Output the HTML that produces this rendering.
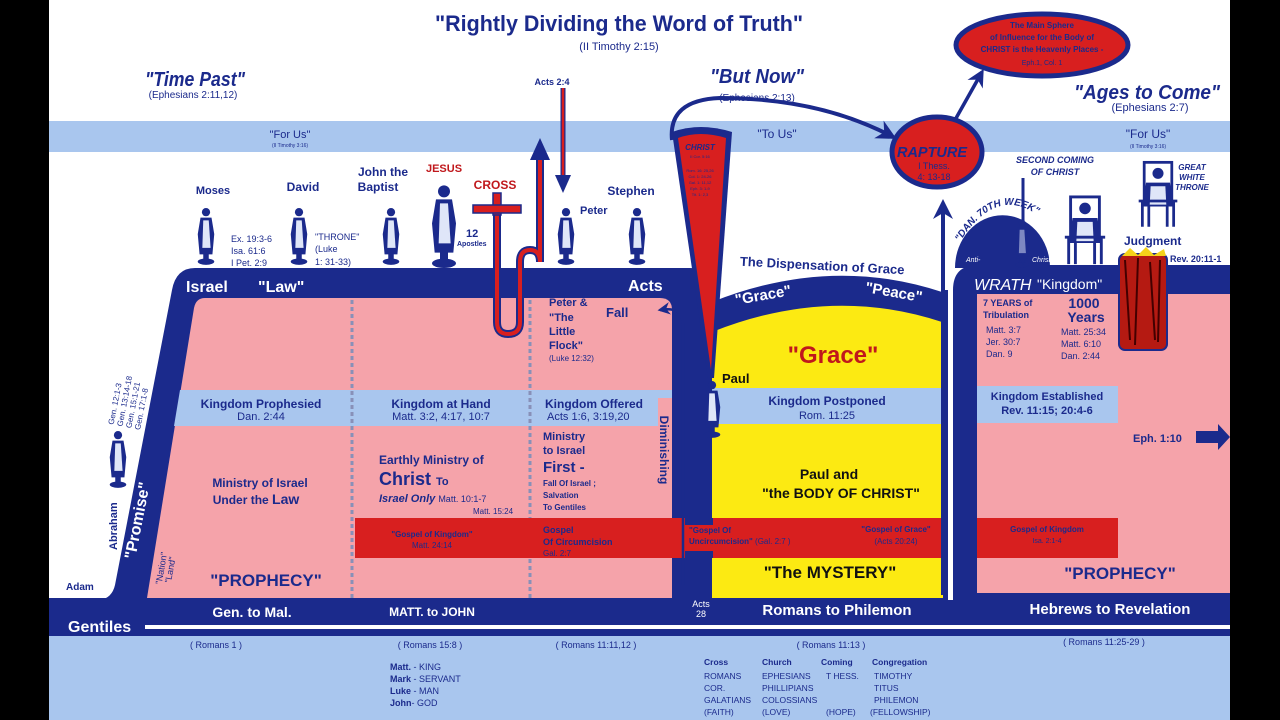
<!DOCTYPE html>
<html><head><meta charset="utf-8"><style>
html,body{margin:0;padding:0;background:#000}
svg{display:block}
text{font-family:"Liberation Sans Narrow","Liberation Sans",sans-serif}
</style></head><body>
<svg width="1280" height="720" viewBox="0 0 1280 720" xmlns="http://www.w3.org/2000/svg">
<defs>
<symbol id="fig" viewBox="0 0 24 64">
<circle cx="12" cy="6" r="4.5" fill="#1b2a8c"/>
<path d="M6,12 L18,12 L21,30 L19,52 L15,52 L15,58 L9,58 L9,52 L5,52 L3,30 Z" fill="#1b2a8c"/>
<path d="M9,15 L15,15 L17,45 L8,45 Z" fill="#dfe6f8"/>
<ellipse cx="12" cy="60" rx="9" ry="3.5" fill="#1b2a8c"/>
</symbol>
<symbol id="throne" viewBox="0 0 50 75">
<rect x="10" y="2" width="30" height="40" fill="none" stroke="#1b2a8c" stroke-width="3"/>
<circle cx="25" cy="14" r="6" fill="#1b2a8c"/>
<path d="M12,24 L38,24 L42,50 L8,50 Z" fill="#1b2a8c"/>
<path d="M17,28 L33,28 L34,48 L16,48 Z" fill="#dfe6f8"/>
<path d="M4,44 L46,44 M8,44 L8,72 M42,44 L42,72 M15,50 L15,72 M35,50 L35,72" stroke="#1b2a8c" stroke-width="3"/>
</symbol>
<marker id="ah" viewBox="0 0 10 10" refX="8" refY="5" markerWidth="5" markerHeight="5" orient="auto"><path d="M0,0 L10,5 L0,10 L3,5 Z" fill="#1b2a8c"/></marker>
</defs>
<rect x="0" y="0" width="1280" height="720" fill="#000"/>
<rect x="49" y="0" width="1181" height="720" fill="#fff"/>
<rect x="49" y="121" width="1181" height="31" fill="#a9c6ee"/>
<rect x="49" y="636" width="1181" height="84" fill="#a9c6ee"/>

<text x="619" y="31" font-size="22" font-weight="bold" fill="#1b2a8c" text-anchor="middle" textLength="368" lengthAdjust="spacingAndGlyphs">"Rightly Dividing the Word of Truth"</text>
<text x="619" y="50" font-size="11" fill="#1b2a8c" text-anchor="middle">(II Timothy 2:15)</text>
<text x="195" y="86" font-size="20" font-weight="bold" font-style="italic" fill="#1b2a8c" text-anchor="middle" textLength="100" lengthAdjust="spacingAndGlyphs">"Time Past"</text>
<text x="193" y="98" font-size="10" fill="#1b2a8c" text-anchor="middle">(Ephesians 2:11,12)</text>
<text x="757" y="83" font-size="20" font-weight="bold" font-style="italic" fill="#1b2a8c" text-anchor="middle" textLength="94" lengthAdjust="spacingAndGlyphs">"But Now"</text>
<text x="757" y="101" font-size="10" fill="#1b2a8c" text-anchor="middle">(Ephesians 2:13)</text>
<text x="1147" y="99" font-size="20" font-weight="bold" font-style="italic" fill="#1b2a8c" text-anchor="middle" textLength="146" lengthAdjust="spacingAndGlyphs">"Ages to Come"</text>
<text x="1150" y="111" font-size="11" fill="#1b2a8c" text-anchor="middle">(Ephesians 2:7)</text>
<text x="290" y="138" font-size="11" fill="#1b2a8c" text-anchor="middle">"For Us"</text>
<text x="290" y="147" font-size="5" fill="#1b2a8c" text-anchor="middle">(II Timothy 3:16)</text>
<text x="777" y="138" font-size="12" fill="#1b2a8c" text-anchor="middle">"To Us"</text>
<text x="1148" y="138" font-size="12" fill="#1b2a8c" text-anchor="middle">"For Us"</text>
<text x="1148" y="148" font-size="5" fill="#1b2a8c" text-anchor="middle">(II Timothy 3:16)</text>

<path d="M195,268 L690,268 Q712,268 712,290 L712,598 L49,598 L49,600 L100,600 Q112,598 115,585 L172,290 Q176,268 195,268 Z" fill="#1b2a8c"/>
<path d="M205,298 L660,298 Q672,298 672,310 L672,598 L147,598 L194,308 Q196,298 205,298 Z" fill="#f5a3aa"/>
<path d="M180,390 L672,390 L672,426 L174,426 Z" fill="#a9c6ee"/>
<line x1="352" y1="300" x2="352" y2="598" stroke="#8890b8" stroke-width="3" stroke-dasharray="4,3"/>
<line x1="530" y1="300" x2="530" y2="598" stroke="#8890b8" stroke-width="3" stroke-dasharray="4,3"/>

<rect x="712" y="300" width="232" height="298" fill="#fcea12"/>
<rect x="712" y="388" width="232" height="36" fill="#a9c6ee"/>
<path d="M712,302 Q830,255 942,292 L942,322 Q830,285 712,332 Z" fill="#1b2a8c"/>
<rect x="943" y="290" width="5" height="308" fill="#1b2a8c"/>
<rect x="355" y="518" width="588" height="40" fill="#d81f1f"/>
<rect x="685" y="518" width="28" height="7" fill="#1b2a8c"/>
<rect x="685" y="551" width="28" height="7" fill="#1b2a8c"/>

<path d="M978,265 L1230,265 L1230,598 L953,598 L953,290 Q953,265 978,265 Z" fill="#1b2a8c"/>
<rect x="977" y="294" width="253" height="299" fill="#f5a3aa"/>
<rect x="977" y="386" width="141" height="37" fill="#a9c6ee"/>
<rect x="977" y="518" width="141" height="40" fill="#d81f1f"/>
<path d="M955,268 A45,50 0 0 1 1050,268 Z" fill="#1b2a8c"/>
<rect x="1119" y="254" width="48" height="96" rx="6" fill="#b51a12" stroke="#1b2a8c" stroke-width="2"/>
<path d="M1125,260 L1130,340 M1138,258 L1135,345 M1150,262 L1155,340 M1160,260 L1158,342" stroke="#400" stroke-width="2"/>
<path d="M1122,256 L1130,248 L1138,255 L1146,247 L1154,255 L1164,249 L1166,256 Z" fill="#f5d21a"/>

<rect x="49" y="598" width="1181" height="38" fill="#1b2a8c"/>
<rect x="145" y="625" width="1085" height="4" fill="#fff"/>
<rect x="948" y="290" width="5" height="310" fill="#fff"/>

<path d="M672,132 Q700,122 732,132 L714,378 L708,378 Z" fill="#1b2a8c"/>
<path d="M678,138 Q700,130 726,138 L711,370 Z" fill="#d81f1f"/>
<text x="700" y="150" font-size="8" font-weight="bold" font-style="italic" fill="#1b2a8c" text-anchor="middle">CHRIST</text>
<text x="700" y="158" font-size="4" fill="#1b2a8c" text-anchor="middle">II Cor. 5:16</text>
<text x="700" y="172" font-size="4" fill="#1b2a8c" text-anchor="middle">Rom. 16: 25,26</text>
<text x="700" y="178" font-size="4" fill="#1b2a8c" text-anchor="middle">Col. 1: 24-26</text>
<text x="700" y="184" font-size="4" fill="#1b2a8c" text-anchor="middle">Gal. 1: 11,12</text>
<text x="700" y="190" font-size="4" fill="#1b2a8c" text-anchor="middle">Eph. 3: 1-9</text>
<text x="700" y="196" font-size="4" fill="#1b2a8c" text-anchor="middle">Tit. 1: 2,3</text>

<path d="M672,140 Q668,100 720,98 Q820,98 893,137" fill="none" stroke="#1b2a8c" stroke-width="4" marker-end="url(#ah)"/>
<path d="M955,120 L982,72" fill="none" stroke="#1b2a8c" stroke-width="3.5" marker-end="url(#ah)"/>
<line x1="943" y1="595" x2="943" y2="203" stroke="#1b2a8c" stroke-width="4" marker-end="url(#ah)"/>
<line x1="1023" y1="178" x2="1023" y2="262" stroke="#1b2a8c" stroke-width="3" marker-end="url(#ah)"/>

<ellipse cx="1042" cy="45" rx="86" ry="31" fill="#d81f1f" stroke="#1b2a8c" stroke-width="5"/>
<text x="1042" y="28" font-size="8" font-weight="bold" fill="#1b2a8c" text-anchor="middle">The Main Sphere</text>
<text x="1042" y="40" font-size="8" font-weight="bold" fill="#1b2a8c" text-anchor="middle">of Influence for the Body of</text>
<text x="1042" y="52" font-size="8" font-weight="bold" fill="#1b2a8c" text-anchor="middle">CHRIST is the Heavenly Places -</text>
<text x="1042" y="65" font-size="7" fill="#1b2a8c" text-anchor="middle">Eph.1, Col. 1</text>
<ellipse cx="937" cy="152" rx="45" ry="35" fill="#d81f1f" stroke="#1b2a8c" stroke-width="5"/>
<text x="932" y="157" font-size="15" font-weight="bold" font-style="italic" fill="#1b2a8c" text-anchor="middle" textLength="70" lengthAdjust="spacingAndGlyphs">RAPTURE</text>
<text x="934" y="169" font-size="9" fill="#1b2a8c" text-anchor="middle">I Thess.</text>
<text x="934" y="180" font-size="9" fill="#1b2a8c" text-anchor="middle">4: 13-18</text>

<text x="552" y="85" font-size="9" font-weight="bold" fill="#1b2a8c" text-anchor="middle">Acts 2:4</text>
<line x1="563" y1="88" x2="563" y2="182" stroke="#1b2a8c" stroke-width="5"/>
<line x1="563" y1="88" x2="563" y2="182" stroke="#d81f1f" stroke-width="2.5"/>
<path d="M555,175 L563,193 L571,175 Z" fill="#1b2a8c"/>
<path d="M497,212 L497,322 Q497,334 508,334 Q520,334 520,322 L520,262 Q520,250 530,250 Q540,250 540,262 L540,160" fill="none" stroke="#1b2a8c" stroke-width="8"/>
<path d="M497,212 L497,322 Q497,334 508,334 Q520,334 520,322 L520,262 Q520,250 530,250 Q540,250 540,262 L540,160" fill="none" stroke="#d81f1f" stroke-width="4"/>
<path d="M530,160 L540,138 L550,160 Z" fill="#1b2a8c"/>
<rect x="493" y="193" width="8" height="22" fill="#d81f1f" stroke="#1b2a8c" stroke-width="1.5"/>
<rect x="473" y="205" width="48" height="8" fill="#d81f1f" stroke="#1b2a8c" stroke-width="1.5"/>
<text x="495" y="189" font-size="12" font-weight="bold" fill="#c0181c" text-anchor="middle">CROSS</text>

<use href="#fig" x="195" y="205" width="22" height="62"/>
<use href="#fig" x="288" y="205" width="22" height="62"/>
<use href="#fig" x="380" y="205" width="22" height="62"/>
<use href="#fig" x="428" y="183" width="32" height="86"/>
<use href="#fig" x="555" y="205" width="22" height="62"/>
<use href="#fig" x="626" y="205" width="22" height="62"/>
<use href="#fig" x="107" y="428" width="22" height="62"/>
<use href="#fig" x="701" y="378" width="22" height="62"/>
<use href="#throne" x="1061" y="195" width="48" height="72"/>
<use href="#throne" x="1135" y="160" width="46" height="70"/>
<use href="#fig" x="1008" y="218" width="28" height="50" opacity="0.5"/>

<text x="213" y="194" font-size="11" font-weight="bold" fill="#1b2a8c" text-anchor="middle">Moses</text>
<text x="303" y="191" font-size="12" font-weight="bold" fill="#1b2a8c" text-anchor="middle">David</text>
<text x="383" y="176" font-size="12" font-weight="bold" fill="#1b2a8c" text-anchor="middle">John the</text>
<text x="378" y="191" font-size="12" font-weight="bold" fill="#1b2a8c" text-anchor="middle">Baptist</text>
<text x="444" y="172" font-size="11" font-weight="bold" fill="#c0181c" text-anchor="middle">JESUS</text>
<text x="631" y="195" font-size="12" font-weight="bold" fill="#1b2a8c" text-anchor="middle">Stephen</text>
<text x="580" y="214" font-size="11" font-weight="bold" fill="#1b2a8c">Peter</text>
<text x="466" y="237" font-size="11" font-weight="bold" fill="#1b2a8c">12</text>
<text x="457" y="246" font-size="7" font-weight="bold" fill="#1b2a8c">Apostles</text>
<text x="231" y="242" font-size="9" fill="#1b2a8c">Ex. 19:3-6</text>
<text x="231" y="254" font-size="9" fill="#1b2a8c">Isa. 61:6</text>
<text x="231" y="266" font-size="9" fill="#1b2a8c">I Pet. 2:9</text>
<text x="315" y="240" font-size="9" fill="#1b2a8c">"THRONE"</text>
<text x="315" y="252" font-size="9" fill="#1b2a8c">(Luke</text>
<text x="315" y="265" font-size="9" fill="#1b2a8c">1: 31-33)</text>

<text x="186" y="292" font-size="16" font-weight="bold" fill="#fff">Israel</text>
<text x="258" y="292" font-size="16" font-weight="bold" fill="#fff">"Law"</text>
<text x="628" y="291" font-size="16" font-weight="bold" fill="#fff">Acts</text>
<text x="135" y="560" font-size="16" font-weight="bold" fill="#fff" transform="rotate(-79 135 560)">"Promise"</text>
<text x="117" y="550" font-size="11" font-weight="bold" fill="#1b2a8c" transform="rotate(-90 117 550)">Abraham</text>
<g transform="rotate(-79 140 420)" font-size="8" fill="#1b2a8c">
<text x="130" y="395">Gen. 12:1-3</text><text x="130" y="404">Gen. 13:14-18</text><text x="130" y="413">Gen. 15:1-21</text><text x="130" y="422">Gen. 17:1-8</text>
</g>
<text x="66" y="590" font-size="10" font-weight="bold" fill="#1b2a8c">Adam</text>
<g transform="rotate(-80 165 565)" font-size="9" fill="#1b2a8c"><text x="145" y="565">"Nation"</text><text x="148" y="574">"Land"</text></g>
<text x="68" y="632" font-size="16" font-weight="bold" fill="#fff">Gentiles</text>
<text x="252" y="617" font-size="14" font-weight="bold" fill="#fff" text-anchor="middle">Gen.  to  Mal.</text>
<text x="432" y="616" font-size="12" font-weight="bold" fill="#fff" text-anchor="middle">MATT.    to    JOHN</text>
<text x="701" y="607" font-size="9" fill="#fff" text-anchor="middle">Acts</text>
<text x="701" y="617" font-size="9" fill="#fff" text-anchor="middle">28</text>
<text x="837" y="615" font-size="15" font-weight="bold" fill="#fff" text-anchor="middle">Romans to Philemon</text>
<text x="1110" y="614" font-size="15" font-weight="bold" fill="#fff" text-anchor="middle">Hebrews      to      Revelation</text>

<text x="261" y="408" font-size="12" font-weight="bold" fill="#1b2a8c" text-anchor="middle">Kingdom Prophesied</text>
<text x="261" y="420" font-size="11" fill="#1b2a8c" text-anchor="middle">Dan. 2:44</text>
<text x="441" y="408" font-size="12" font-weight="bold" fill="#1b2a8c" text-anchor="middle">Kingdom at Hand</text>
<text x="441" y="420" font-size="11" fill="#1b2a8c" text-anchor="middle">Matt. 3:2, 4:17, 10:7</text>
<text x="545" y="408" font-size="12" font-weight="bold" fill="#1b2a8c">Kingdom Offered</text>
<text x="547" y="420" font-size="11" fill="#1b2a8c">Acts 1:6, 3:19,20</text>
<text x="827" y="405" font-size="12" font-weight="bold" fill="#1b2a8c" text-anchor="middle">Kingdom Postponed</text>
<text x="827" y="419" font-size="11" fill="#1b2a8c" text-anchor="middle">Rom. 11:25</text>
<text x="1047" y="400" font-size="11" font-weight="bold" fill="#1b2a8c" text-anchor="middle">Kingdom Established</text>
<text x="1047" y="414" font-size="11" font-weight="bold" fill="#1b2a8c" text-anchor="middle">Rev. 11:15; 20:4-6</text>

<text x="549" y="306" font-size="11" font-weight="bold" fill="#1b2a8c">Peter &amp;</text>
<text x="549" y="321" font-size="11" font-weight="bold" fill="#1b2a8c">"The</text>
<text x="549" y="335" font-size="11" font-weight="bold" fill="#1b2a8c">Little</text>
<text x="549" y="349" font-size="11" font-weight="bold" fill="#1b2a8c">Flock"</text>
<text x="549" y="361" font-size="8" fill="#1b2a8c">(Luke 12:32)</text>
<text x="606" y="317" font-size="13" font-weight="bold" fill="#1b2a8c">Fall</text>
<path d="M683,585 L683,325 Q683,306 660,310" fill="none" stroke="#1b2a8c" stroke-width="2.5" marker-end="url(#ah)"/>
<rect x="658" y="398" width="14" height="106" fill="#f5a3aa"/>
<text x="660" y="450" font-size="12" font-weight="bold" fill="#1b2a8c" transform="rotate(90 660 450)" text-anchor="middle">Diminishing</text>

<text x="260" y="487" font-size="12" font-weight="bold" fill="#1b2a8c" text-anchor="middle">Ministry of Israel</text>
<text x="256" y="504" font-size="12" font-weight="bold" fill="#1b2a8c" text-anchor="middle">Under the <tspan font-size="14">Law</tspan></text>
<text x="266" y="586" font-size="17" font-weight="bold" fill="#1b2a8c" text-anchor="middle">"PROPHECY"</text>
<text x="379" y="464" font-size="12" font-weight="bold" fill="#1b2a8c">Earthly Ministry of</text>
<text x="379" y="485" font-size="18" font-weight="bold" fill="#1b2a8c">Christ <tspan font-size="11">To</tspan></text>
<text x="379" y="502" font-size="11" font-weight="bold" font-style="italic" fill="#1b2a8c">Israel Only <tspan font-style="normal" font-weight="normal" font-size="9">Matt. 10:1-7</tspan></text>
<text x="473" y="514" font-size="8" fill="#1b2a8c">Matt. 15:24</text>
<text x="432" y="537" font-size="8" font-weight="bold" fill="#1b2a8c" text-anchor="middle">"Gospel of Kingdom"</text>
<text x="432" y="548" font-size="8" fill="#1b2a8c" text-anchor="middle">Matt. 24:14</text>
<text x="543" y="440" font-size="11" font-weight="bold" fill="#1b2a8c">Ministry</text>
<text x="543" y="454" font-size="11" font-weight="bold" fill="#1b2a8c">to Israel</text>
<text x="543" y="472" font-size="15" font-weight="bold" fill="#1b2a8c">First -</text>
<text x="543" y="486" font-size="8" font-weight="bold" fill="#1b2a8c">Fall Of  Israel ;</text>
<text x="543" y="498" font-size="8" font-weight="bold" fill="#1b2a8c">Salvation</text>
<text x="543" y="510" font-size="8" font-weight="bold" fill="#1b2a8c">To Gentiles</text>
<text x="543" y="533" font-size="9" font-weight="bold" fill="#1b2a8c">Gospel</text>
<text x="543" y="545" font-size="9" font-weight="bold" fill="#1b2a8c">Of Circumcision</text>
<text x="543" y="556" font-size="8" fill="#1b2a8c">Gal. 2:7</text>

<text x="822" y="270" font-size="13" font-weight="bold" fill="#1b2a8c" text-anchor="middle" transform="rotate(3 822 270)">The Dispensation of Grace</text>
<text x="764" y="300" font-size="15" font-weight="bold" fill="#fff" text-anchor="middle" transform="rotate(-10 764 300)">"Grace"</text>
<text x="893" y="297" font-size="15" font-weight="bold" fill="#fff" text-anchor="middle" transform="rotate(10 893 297)">"Peace"</text>
<text x="833" y="363" font-size="24" font-weight="bold" fill="#c0181c" text-anchor="middle">"Grace"</text>
<text x="722" y="383" font-size="13" font-weight="bold" fill="#111">Paul</text>
<text x="829" y="479" font-size="14" font-weight="bold" fill="#111" text-anchor="middle">Paul and</text>
<text x="841" y="498" font-size="14" font-weight="bold" fill="#111" text-anchor="middle">"the BODY OF CHRIST"</text>
<text x="689" y="533" font-size="8" font-weight="bold" fill="#1b2a8c">"Gospel Of</text>
<text x="689" y="544" font-size="8" font-weight="bold" fill="#1b2a8c">Uncircumcision" <tspan font-weight="normal">(Gal. 2:7 )</tspan></text>
<text x="896" y="532" font-size="8" font-weight="bold" fill="#1b2a8c" text-anchor="middle">"Gospel of Grace"</text>
<text x="896" y="544" font-size="8" fill="#1b2a8c" text-anchor="middle">(Acts 20:24)</text>
<text x="830" y="578" font-size="17" font-weight="bold" fill="#111" text-anchor="middle">"The MYSTERY"</text>

<text x="1055" y="163" font-size="9" font-weight="bold" font-style="italic" fill="#1b2a8c" text-anchor="middle">SECOND COMING</text>
<text x="1055" y="175" font-size="9" font-weight="bold" font-style="italic" fill="#1b2a8c" text-anchor="middle">OF CHRIST</text>
<text x="1192" y="170" font-size="8" font-weight="bold" font-style="italic" fill="#1b2a8c" text-anchor="middle">GREAT</text>
<text x="1192" y="180" font-size="8" font-weight="bold" font-style="italic" fill="#1b2a8c" text-anchor="middle">WHITE</text>
<text x="1192" y="190" font-size="8" font-weight="bold" font-style="italic" fill="#1b2a8c" text-anchor="middle">THRONE</text>
<text x="1124" y="245" font-size="12" font-weight="bold" fill="#1b2a8c">Judgment</text>
<text x="1170" y="262" font-size="9" font-weight="bold" fill="#1b2a8c">Rev. 20:11-1</text>
<path id="dan" d="M960,242 Q1005,170 1062,238" fill="none"/>
<text font-size="10" font-weight="bold" font-style="italic" fill="#1b2a8c"><textPath href="#dan">"DAN. 70TH WEEK"</textPath></text>
<text x="966" y="262" font-size="7" font-style="italic" fill="#fff">Anti-</text>
<text x="1032" y="262" font-size="7" font-style="italic" fill="#fff">Christ</text>
<text x="974" y="290" font-size="16" font-style="italic" fill="#fff">WRATH</text>
<text x="1037" y="289" font-size="14" fill="#fff">"Kingdom"</text>
<text x="983" y="306" font-size="9" font-weight="bold" fill="#1b2a8c">7 YEARS of</text>
<text x="983" y="318" font-size="9" font-weight="bold" fill="#1b2a8c">Tribulation</text>
<text x="986" y="333" font-size="9" fill="#1b2a8c">Matt. 3:7</text>
<text x="986" y="345" font-size="9" fill="#1b2a8c">Jer. 30:7</text>
<text x="986" y="357" font-size="9" fill="#1b2a8c">Dan. 9</text>
<text x="1084" y="308" font-size="14" font-weight="bold" fill="#1b2a8c" text-anchor="middle">1000</text>
<text x="1086" y="322" font-size="14" font-weight="bold" fill="#1b2a8c" text-anchor="middle">Years</text>
<text x="1061" y="335" font-size="9" fill="#1b2a8c">Matt. 25:34</text>
<text x="1061" y="347" font-size="9" fill="#1b2a8c">Matt. 6:10</text>
<text x="1061" y="359" font-size="9" fill="#1b2a8c">Dan. 2:44</text>
<text x="1133" y="442" font-size="11" font-weight="bold" fill="#1b2a8c">Eph.  1:10</text>
<path d="M1196,431 L1218,431 L1218,424 L1230,437 L1218,450 L1218,443 L1196,443 Z" fill="#1b2a8c"/>
<text x="1047" y="532" font-size="8" font-weight="bold" fill="#1b2a8c" text-anchor="middle">Gospel of Kingdom</text>
<text x="1047" y="543" font-size="7" fill="#1b2a8c" text-anchor="middle">Isa. 2:1-4</text>
<text x="1120" y="579" font-size="17" font-weight="bold" fill="#1b2a8c" text-anchor="middle">"PROPHECY"</text>

<g font-size="9" fill="#1b2a8c">
<text x="216" y="648" text-anchor="middle">( Romans 1 )</text>
<text x="430" y="648" text-anchor="middle">( Romans 15:8 )</text>
<text x="596" y="648" text-anchor="middle">( Romans 11:11,12 )</text>
<text x="831" y="648" text-anchor="middle">( Romans 11:13 )</text>
<text x="1104" y="645" text-anchor="middle">( Romans 11:25-29 )</text>
<text x="390" y="670"><tspan font-weight="bold">Matt.</tspan> - KING</text>
<text x="390" y="682"><tspan font-weight="bold">Mark</tspan> - SERVANT</text>
<text x="390" y="694"><tspan font-weight="bold">Luke</tspan> -  MAN</text>
<text x="390" y="706"><tspan font-weight="bold">John</tspan>-   GOD</text>
<g font-size="8.5">
<text x="704" y="665" font-weight="bold">Cross</text><text x="762" y="665" font-weight="bold">Church</text><text x="821" y="665" font-weight="bold">Coming</text><text x="872" y="665" font-weight="bold">Congregation</text>
<text x="704" y="679">ROMANS</text><text x="762" y="679">EPHESIANS</text><text x="826" y="679">T HESS.</text><text x="874" y="679">TIMOTHY</text>
<text x="704" y="691">COR.</text><text x="762" y="691">PHILLIPIANS</text><text x="874" y="691">TITUS</text>
<text x="704" y="703">GALATIANS</text><text x="762" y="703">COLOSSIANS</text><text x="874" y="703">PHILEMON</text>
<text x="704" y="715">(FAITH)</text><text x="762" y="715">(LOVE)</text><text x="826" y="715">(HOPE)</text><text x="870" y="715">(FELLOWSHIP)</text>
</g>
</g>
</svg>
</body></html>
